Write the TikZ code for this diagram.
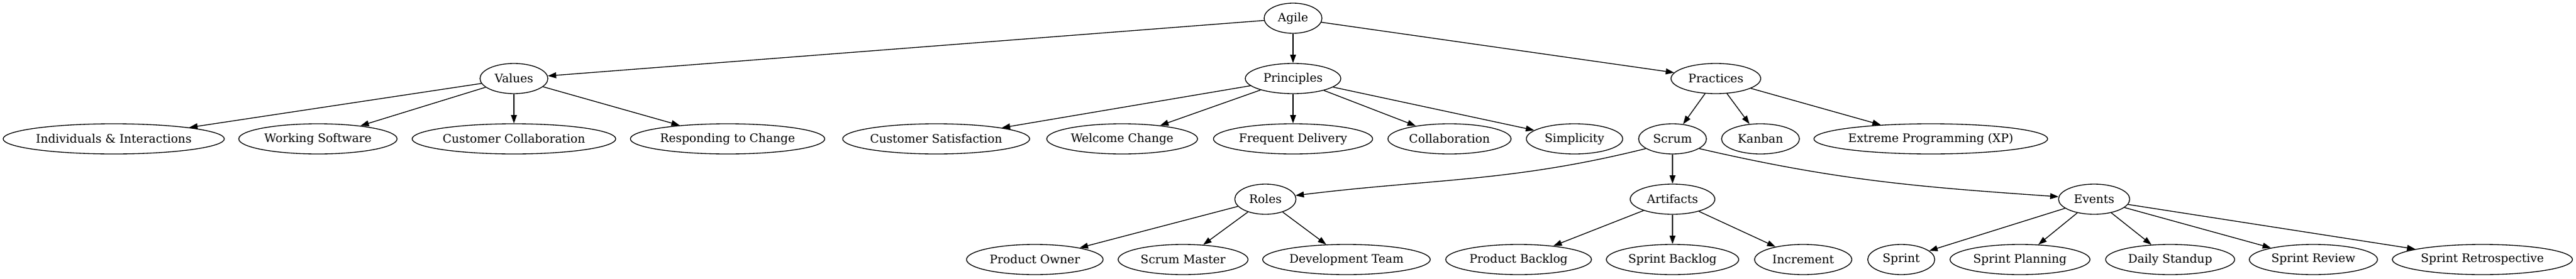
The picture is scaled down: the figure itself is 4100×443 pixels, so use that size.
\documentclass[tikz,border=0pt]{standalone}
\usepackage{fontspec}
\setmainfont{DejaVu Serif}
\usepackage{tikz}
\usetikzlibrary{shapes.geometric, arrows.meta}

\begin{document}
\begin{tikzpicture}[x=0.75pt, y=-0.75pt,
    box/.style={draw, ellipse, line width=1pt, inner sep=0pt, minimum height=36pt, font=\fontsize{14}{16}\selectfont},
    edge/.style={line width=1pt, -{Triangle[length=10pt,width=7pt]}}]

   \useasboundingbox (0,0) rectangle (4100,443);

   \node (agile) [box, minimum width=69pt] at (2058, 29) {Agile};

   \node (val) [box, minimum width=81pt]  at ( 818, 125) {Values};
   \node (pri) [box, minimum width=114pt] at (2058, 125) {Principles};
   \node (pra) [box, minimum width=107pt] at (2731, 125) {Practices};

   \node (v1) [box, minimum width=264pt] at ( 181, 221) {Individuals \& Interactions};
   \node (v2) [box, minimum width=189pt] at ( 506, 221) {Working Software};
   \node (v3) [box, minimum width=243pt] at ( 818, 221) {Customer Collaboration};
   \node (v4) [box, minimum width=232pt] at (1158, 221) {Responding to Change};
   \node (p1) [box, minimum width=222pt] at (1490, 221) {Customer Satisfaction};
   \node (p2) [box, minimum width=180pt] at (1786, 221) {Welcome Change};
   \node (p3) [box, minimum width=190pt] at (2058, 221) {Frequent Delivery};
   \node (p4) [box, minimum width=147pt] at (2307, 221) {Collaboration};
   \node (p5) [box, minimum width=115pt] at (2506, 221) {Simplicity};
   \node (scrum)  [box, minimum width=81pt]  at (2662, 221) {Scrum};
   \node (kanban) [box, minimum width=93pt]  at (2802, 221) {Kanban};
   \node (xp)     [box, minimum width=279pt] at (3073, 221) {Extreme Programming (XP)};

   \node (roles)  [box, minimum width=73pt]  at (2014, 317) {Roles};
   \node (arts)   [box, minimum width=101pt] at (2662, 317) {Artifacts};
   \node (events) [box, minimum width=85pt]  at (3333, 317) {Events};

   \node (r1) [box, minimum width=163pt] at (1647, 413) {Product Owner};
   \node (r2) [box, minimum width=155pt] at (1883, 413) {Scrum Master};
   \node (r3) [box, minimum width=200pt] at (2143, 413) {Development Team};
   \node (a1) [box, minimum width=174pt] at (2417, 413) {Product Backlog};
   \node (a2) [box, minimum width=158pt] at (2662, 413) {Sprint Backlog};
   \node (a3) [box, minimum width=116pt] at (2870, 413) {Increment};
   \node (e1) [box, minimum width=80pt]  at (3026, 413) {Sprint};
   \node (e2) [box, minimum width=167pt] at (3215, 413) {Sprint Planning};
   \node (e3) [box, minimum width=154pt] at (3454, 413) {Daily Standup};
   \node (e4) [box, minimum width=153pt] at (3682, 413) {Sprint Review};
   \node (e5) [box, minimum width=215pt] at (3951, 413) {Sprint Retrospective};

  \draw[edge] (agile)--(val);  \draw[edge] (agile)--(pri);  \draw[edge] (agile)--(pra);
  \draw[edge] (val)--(v1);  \draw[edge] (val)--(v2);  \draw[edge] (val)--(v3);  \draw[edge] (val)--(v4);
  \draw[edge] (pri)--(p1);  \draw[edge] (pri)--(p2);  \draw[edge] (pri)--(p3);  \draw[edge] (pri)--(p4);  \draw[edge] (pri)--(p5);
  \draw[edge] (pra)--(scrum);  \draw[edge] (pra)--(kanban);  \draw[edge] (pra)--(xp);
  \draw[edge] (scrum.200) to[out=194, in=7] (roles);
  \draw[edge] (scrum)--(arts);
  \draw[edge] (scrum.340) to[out=-13, in=176] (events);
  \draw[edge] (roles)--(r1);  \draw[edge] (roles)--(r2);  \draw[edge] (roles)--(r3);
  \draw[edge] (arts)--(a1);  \draw[edge] (arts)--(a2);  \draw[edge] (arts)--(a3);
  \draw[edge] (events)--(e1);  \draw[edge] (events)--(e2);  \draw[edge] (events)--(e3);  \draw[edge] (events)--(e4);  \draw[edge] (events)--(e5);
\end{tikzpicture}
\end{document}
